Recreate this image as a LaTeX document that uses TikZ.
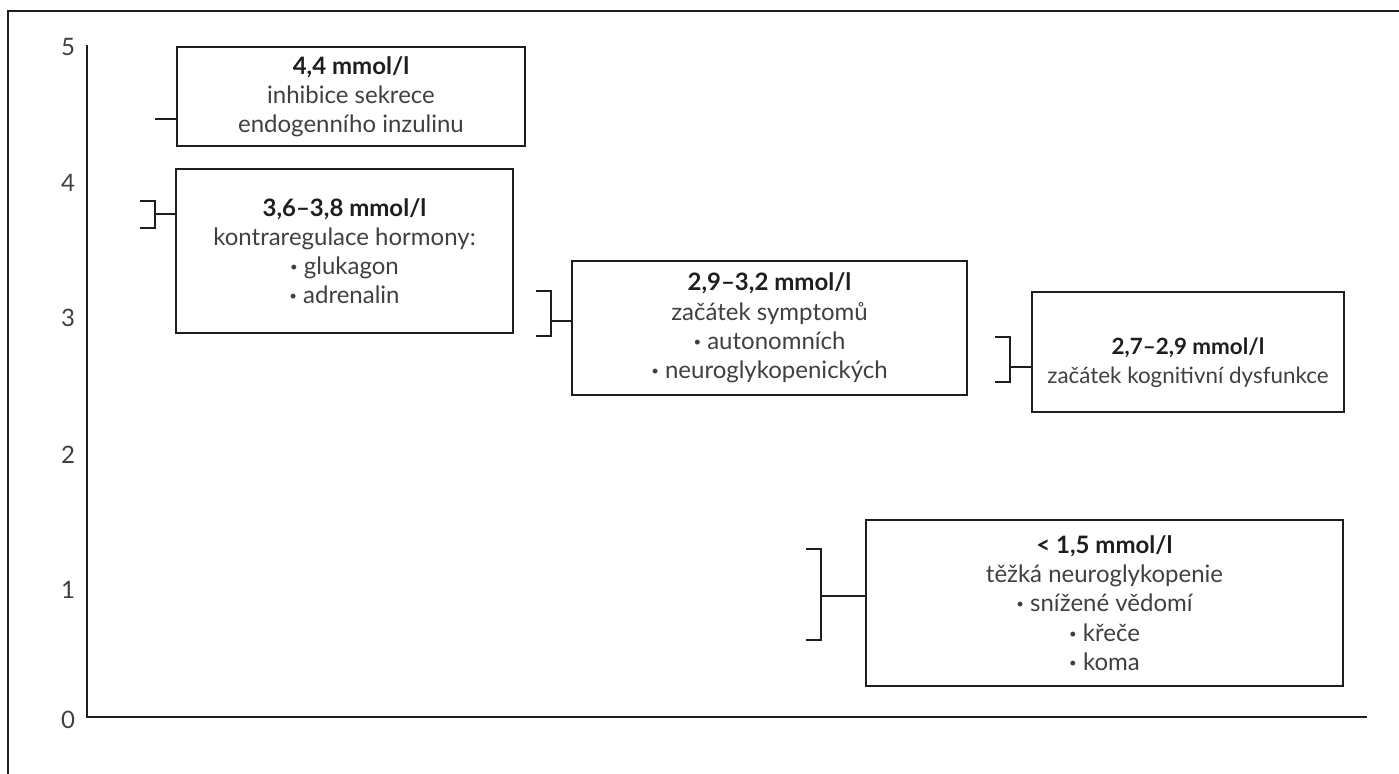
\documentclass[tikz,border=0pt]{standalone}
\usepackage{fontspec}
\setmainfont{Lato}
\usepackage{graphicx}
\usepackage{tikz}
\definecolor{ink}{HTML}{404040}
\definecolor{darkink}{HTML}{1E1E1E}
\tikzstyle{level} = [draw=darkink, line width=0.7pt, align=center, text=ink, inner sep=0pt, font=\fontsize{12}{14.6}\selectfont]
\tikzstyle{bracket} = [draw=darkink, line width=0.6pt]
\tikzstyle{axis} = [draw=darkink, line width=0.7pt]
\newcommand{\conc}[1]{{\bfseries\color{darkink}#1}}
\newcommand{\bul}{\raisebox{0.12em}{\scalebox{0.55}{\textbullet}}\ }

\begin{document}
\begin{tikzpicture}[x=0.5pt, y=-0.5pt]
\useasboundingbox (0,0) rectangle (1399,774);
\draw[axis] (8,774) -- (8,11) -- (1399,11);

% axes
\coordinate (origin) at (87,717);
\coordinate (ytop) at (87,45);
\coordinate (xend) at (1367,717);
\draw[axis] (ytop) -- (origin) -- (xend);
\foreach \v/\y in {5/47, 4/183, 3/318, 2/455, 1/590, 0/720}
  \node[text=ink, font=\fontsize{12}{14}\selectfont] (label\v) at (68,\y) {\v};

% levels
\node (inhibition) [level, minimum width=174pt, minimum height=49.5pt] at (351,96.5)
  {\conc{4,4 mmol/l}\\inhibice sekrece\\endogenního inzulinu};
\node (counterreg) [level, minimum width=168.5pt, minimum height=82pt] at (344.5,251)
  {\conc{3,6--3,8 mmol/l}\\kontraregulace hormony:\\\bul glukagon\\\bul adrenalin};
\node (symptoms) [level, minimum width=197.5pt, minimum height=67pt] at (769.5,328)
  {\conc{2,9--3,2 mmol/l}\\začátek symptomů\\\bul autonomních\\\bul neuroglykopenických};
\node (cognition) [level, minimum width=156pt, minimum height=60pt, font=\fontsize{11.2}{14.6}\selectfont] at (1188,352)
  {\rule{0pt}{19pt}\conc{2,7--2,9 mmol/l}\\začátek kognitivní dysfunkce};
\node (neuroglyc) [level, minimum width=238.5pt, minimum height=83pt] at (1104.5,603)
  {\conc{< 1,5 mmol/l}\\těžká neuroglykopenie\\\bul snížené vědomí\\\bul křeče\\\bul koma};

% brackets
\coordinate (tick a) at (155,119);
\draw[bracket] (tick a) -- (tick a -| inhibition.west);

\draw[bracket] (140,201) -- (155,201) -- (155,228) -- (140,228);
\coordinate (tick b) at (155,214);
\draw[bracket] (tick b) -- (tick b -| counterreg.west);

\draw[bracket] (536,291) -- (551,291) -- (551,336) -- (536,336);
\coordinate (tick c) at (551,321);
\draw[bracket] (tick c) -- (tick c -| symptoms.west);

\draw[bracket] (995,337) -- (1010,337) -- (1010,382) -- (995,382);
\coordinate (tick d) at (1010,367);
\draw[bracket] (tick d) -- (tick d -| cognition.west);

\draw[bracket] (806,549) -- (821,549) -- (821,640) -- (806,640);
\coordinate (tick e) at (821,596);
\draw[bracket] (tick e) -- (tick e -| neuroglyc.west);

\end{tikzpicture}
\end{document}
